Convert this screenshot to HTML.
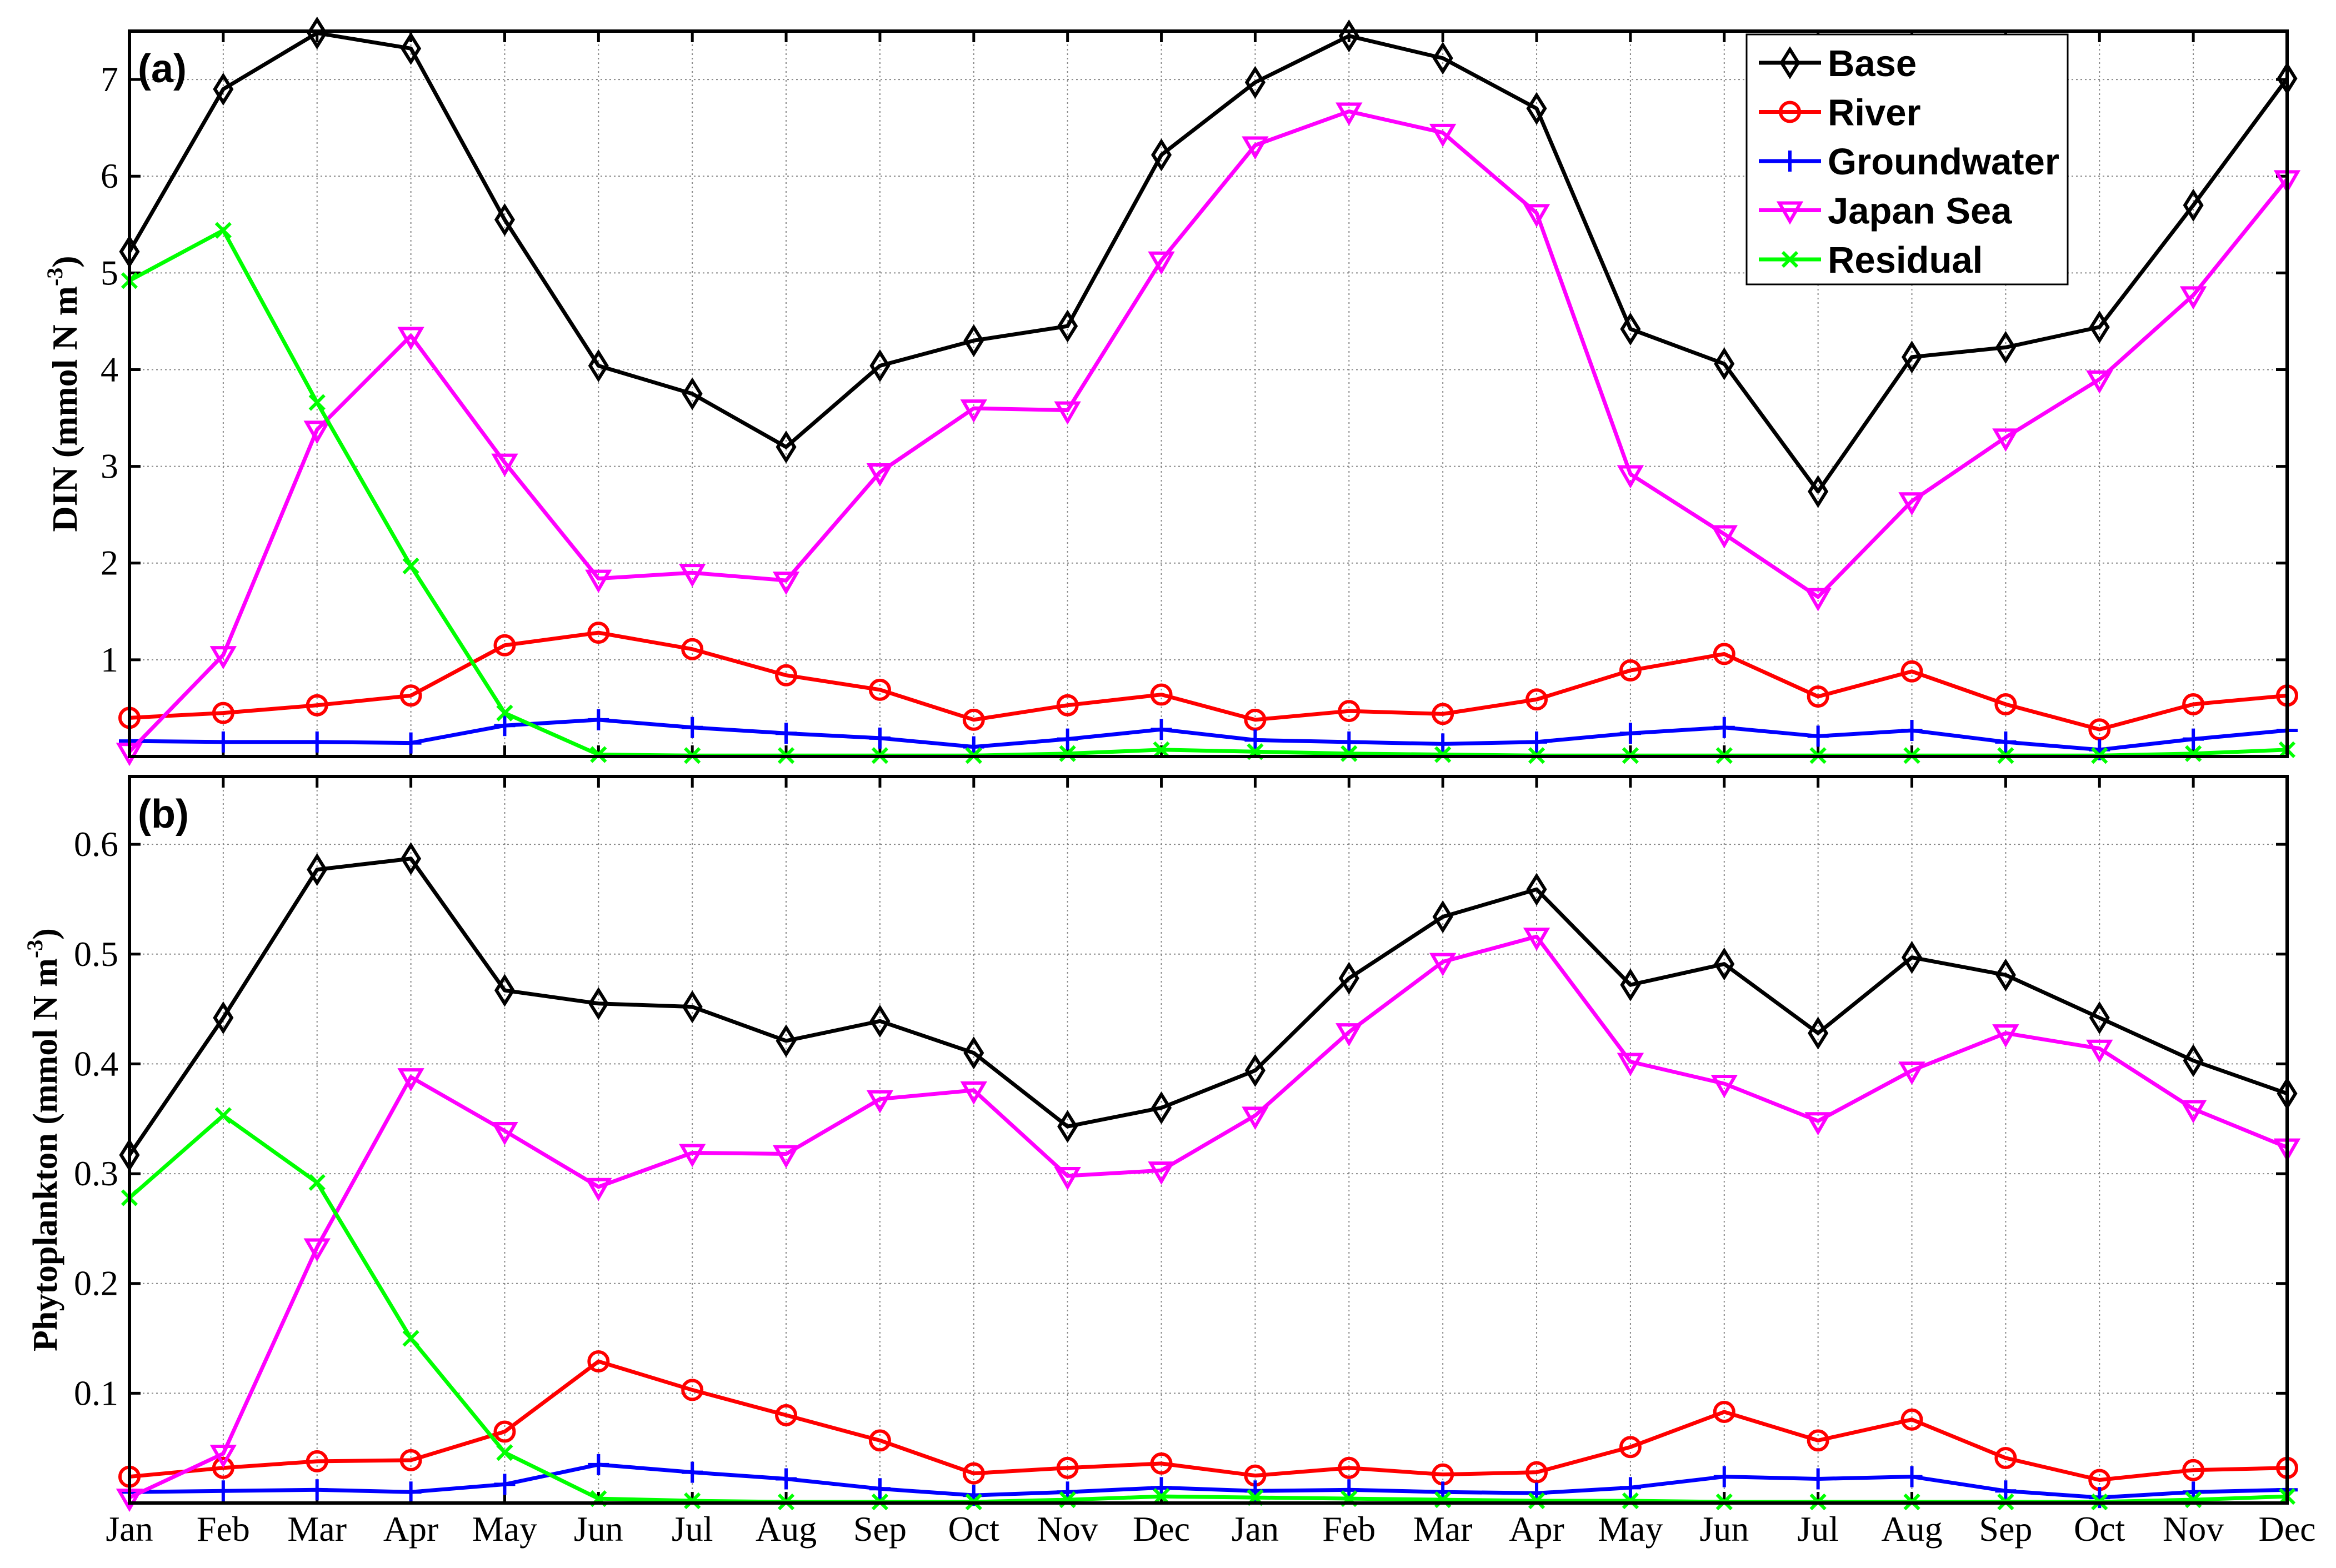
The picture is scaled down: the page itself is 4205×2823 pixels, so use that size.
<!DOCTYPE html>
<html><head><meta charset="utf-8"><style>
html,body{margin:0;padding:0;background:#fff}
svg{display:block}
</style></head><body>
<svg id="chart" xmlns="http://www.w3.org/2000/svg" width="4205" height="2823" viewBox="0 0 4205 2823">
<rect x="0" y="0" width="4205" height="2823" fill="#fff"/>
</svg>
<script>
const months = ["Jan","Feb","Mar","Apr","May","Jun","Jul","Aug","Sep","Oct","Nov","Dec","Jan","Feb","Mar","Apr","May","Jun","Jul","Aug","Sep","Oct","Nov","Dec"];
const seriesNames = ["Base","River","Groundwater","Japan Sea","Residual"];
const dinBase = [5.22,6.9,7.48,7.32,5.55,4.04,3.75,3.2,4.04,4.3,4.45,6.22,6.97,7.45,7.22,6.7,4.42,4.06,2.74,4.13,4.23,4.44,5.7,7.01];
const dinRiver = [0.4,0.45,0.53,0.63,1.15,1.28,1.11,0.84,0.69,0.38,0.53,0.64,0.38,0.47,0.44,0.59,0.89,1.06,0.62,0.88,0.54,0.28,0.54,0.63];
const dinGround = [0.16,0.15,0.15,0.14,0.32,0.38,0.3,0.24,0.19,0.1,0.18,0.28,0.17,0.15,0.13,0.15,0.24,0.3,0.21,0.27,0.15,0.07,0.18,0.27];
const dinJapan = [0.05,1.05,3.38,4.35,3.04,1.84,1.9,1.82,2.94,3.6,3.58,5.13,6.32,6.67,6.45,5.62,2.92,2.3,1.65,2.64,3.3,3.9,4.77,5.97];
const dinResid = [4.92,5.44,3.66,1.97,0.45,0.02,0.01,0.01,0.01,0.01,0.03,0.07,0.05,0.03,0.02,0.01,0.01,0.01,0.01,0.01,0.01,0.01,0.03,0.07];
const phyBase = [0.317,0.442,0.577,0.587,0.467,0.455,0.452,0.421,0.439,0.41,0.343,0.36,0.394,0.478,0.534,0.559,0.472,0.491,0.428,0.497,0.481,0.442,0.403,0.373];
const phyRiver = [0.024,0.032,0.038,0.039,0.065,0.129,0.103,0.08,0.057,0.027,0.032,0.036,0.025,0.032,0.026,0.028,0.051,0.083,0.057,0.076,0.041,0.021,0.03,0.032];
const phyGround = [0.01,0.011,0.012,0.01,0.017,0.035,0.028,0.022,0.013,0.007,0.01,0.014,0.011,0.012,0.01,0.009,0.014,0.024,0.022,0.024,0.011,0.005,0.01,0.012];
const phyJapan = [0.005,0.045,0.233,0.388,0.339,0.288,0.319,0.318,0.368,0.376,0.298,0.303,0.353,0.429,0.493,0.516,0.402,0.382,0.348,0.394,0.428,0.414,0.359,0.324];
const phyResid = [0.278,0.353,0.292,0.15,0.046,0.004,0.002,0.001,0.001,0.001,0.003,0.006,0.005,0.004,0.003,0.002,0.002,0.001,0.001,0.001,0.001,0.001,0.003,0.006];
const dinTicks = [1,2,3,4,5,6,7];
const dinTickLabels = ["1","2","3","4","5","6","7"];
const phyTicks = [0.1,0.2,0.3,0.4,0.5,0.6];
const phyTickLabels = ["0.1","0.2","0.3","0.4","0.5","0.6"];

const NS="http://www.w3.org/2000/svg";
const svg=document.getElementById('chart');
function mk(tag,attrs,parent){const e=document.createElementNS(NS,tag);for(const k in attrs)e.setAttribute(k,attrs[k]);(parent||svg).appendChild(e);return e;}
const X0=233,X1=4117;
function xs(i){return X0+(X1-X0)*i/(months.length-1);}
const colors=["#000","#f00","#00f","#f0f","#0f0"];
const markers=["diamond","circle","plus","tri","x"];
function marker(g,type,x,y,c){
  let e;
  if(type==="diamond"){e=mk('path',{d:`M${x} ${y-24}L${x+15} ${y}L${x} ${y+24}L${x-15} ${y}Z`,fill:'none',stroke:c,'stroke-width':6},g);}
  else if(type==="circle"){e=mk('circle',{cx:x,cy:y,r:17,fill:'none',stroke:c,'stroke-width':6},g);}
  else if(type==="plus"){e=mk('path',{d:`M${x-19} ${y}H${x+19}M${x} ${y-19}V${y+19}`,stroke:c,'stroke-width':6},g);}
  else if(type==="tri"){e=mk('path',{d:`M${x-19} ${y-13}H${x+19}L${x} ${y+20}Z`,fill:'none',stroke:c,'stroke-width':6},g);}
  else {e=mk('path',{d:`M${x-13} ${y-13}L${x+13} ${y+13}M${x+13} ${y-13}L${x-13} ${y+13}`,stroke:c,'stroke-width':6},g);}
  return e;
}
function panel(opt){
  const {top,bottom,ymax,ticks,tickLabels,data,tag,ylabel,ylx,ylfs,name}=opt;
  const ys=v=>bottom-(bottom-top)*v/ymax;
  const g=mk('g',{});
  
  
  for(let i=1;i<months.length-1;i++){const l=mk('line',{x1:xs(i),x2:xs(i),y1:top,y2:bottom,stroke:'#888','stroke-width':2,'stroke-dasharray':'3,5'},g);
    }
  ticks.forEach((t,i)=>{const y=ys(t);
    const l=mk('line',{x1:X0,x2:X1,y1:y,y2:y,stroke:'#888','stroke-width':2,'stroke-dasharray':'3,5'},g);
    
    mk('line',{x1:X0,x2:X0+20,y1:y,y2:y,stroke:'#000','stroke-width':5},g);
    mk('line',{x1:X1,x2:X1-20,y1:y,y2:y,stroke:'#000','stroke-width':5},g);
    const tx=mk('text',{x:X0-20,y:y+21,'text-anchor':'end','font-family':'Liberation Serif, serif','font-size':64},g);
    tx.textContent=tickLabels[i];
    
  });
  for(let i=0;i<months.length;i++){
    mk('line',{x1:xs(i),x2:xs(i),y1:bottom,y2:bottom-20,stroke:'#000','stroke-width':5},g);
    mk('line',{x1:xs(i),x2:xs(i),y1:top,y2:top+20,stroke:'#000','stroke-width':5},g);
  }
  data.forEach((arr,si)=>{
    const sg=mk('g',{},g);
    
    
    const pts=arr.map((v,i)=>xs(i)+','+ys(v)).join(' ');
    mk('polyline',{points:pts,fill:'none',stroke:colors[si],'stroke-width':7,'stroke-linejoin':'round'},sg);
    arr.forEach((v,i)=>{const m=marker(sg,markers[si],xs(i),ys(v),colors[si]);
      });
  });
  const fr=mk('rect',{x:X0,y:top,width:X1-X0,height:bottom-top,fill:'none',stroke:'#000','stroke-width':6},g);
  
  const pl=mk('text',{x:X0+15,y:top+92,'font-family':'Liberation Sans, sans-serif','font-weight':'bold','font-size':72},g);
  pl.textContent=tag;
  const cy=(top+bottom)/2;
  const yl=mk('text',{x:ylx,y:cy,transform:`rotate(-90 ${ylx} ${cy})`,'text-anchor':'middle','font-family':'Liberation Serif, serif','font-weight':'bold','font-size':ylfs},g);
  yl.innerHTML=ylabel+' (mmol N m<tspan dy="-26" font-size="40">-3</tspan><tspan dy="26">)</tspan>';
  
  return g;
}
panel({name:'panel-a-din',top:56,bottom:1362,ymax:7.5,ticks:dinTicks,tickLabels:dinTickLabels,data:[dinBase,dinRiver,dinGround,dinJapan,dinResid],tag:'(a)',ylabel:'DIN',ylx:138,ylfs:64});
panel({name:'panel-b-phytoplankton',top:1398,bottom:2706,ymax:0.6618,ticks:phyTicks,tickLabels:phyTickLabels,data:[phyBase,phyRiver,phyGround,phyJapan,phyResid],tag:'(b)',ylabel:'Phytoplankton',ylx:102,ylfs:62});
months.forEach((m,i)=>{const t=mk('text',{x:xs(i),y:2774,'text-anchor':'middle','font-family':'Liberation Serif, serif','font-size':64});
  t.textContent=m;});
const lg=mk('g',{});


mk('rect',{x:3144,y:62,width:578,height:450,fill:'#fff',stroke:'#000','stroke-width':3},lg);
seriesNames.forEach((n,i)=>{const y=113+i*88.5;
  const eg=mk('g',{},lg);
  
  
  mk('line',{x1:3166,x2:3278,y1:y,y2:y,stroke:colors[i],'stroke-width':7},eg);
  marker(eg,markers[i],3222,y,colors[i]);
  const t=mk('text',{x:3290,y:y+24,'font-family':'Liberation Sans, sans-serif','font-weight':'bold','font-size':67},eg);
  t.textContent=n;
});
</script>
</body></html>
